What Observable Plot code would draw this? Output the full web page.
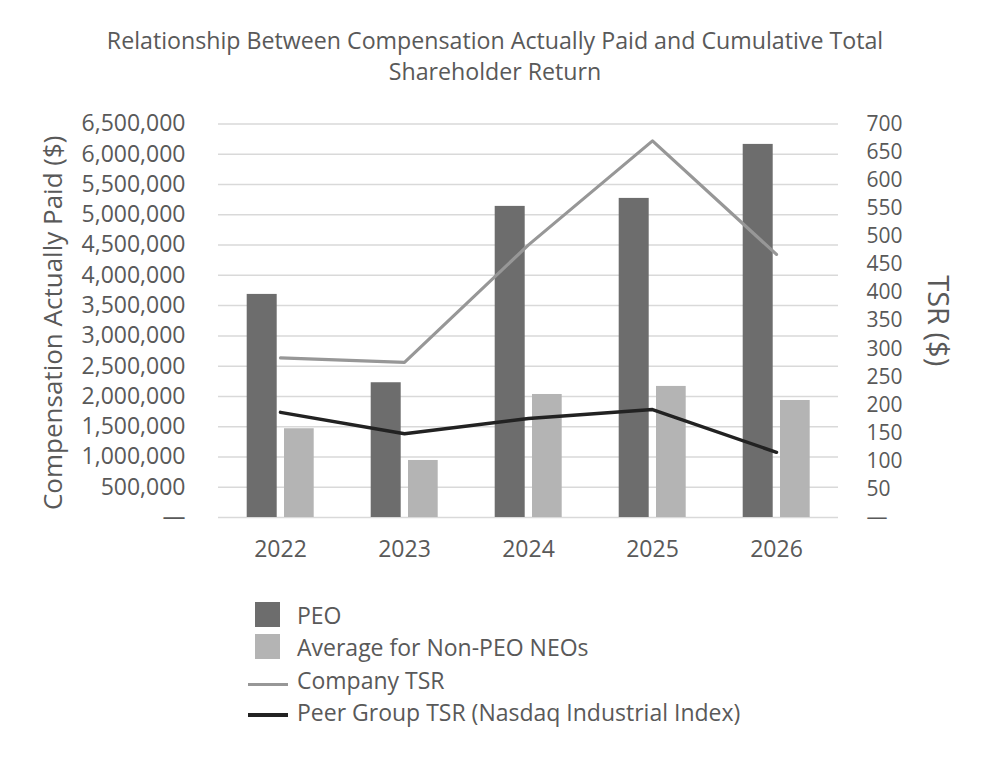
<!DOCTYPE html>
<html><head><meta charset="utf-8">
<script src="https://cdn.jsdelivr.net/npm/d3@7"></script>
<script src="https://cdn.jsdelivr.net/npm/@observablehq/plot@0.6"></script>
<style>
body{margin:0;background:#fff;font-family:"Open Sans",sans-serif;color:#595959;}
#wrap{position:relative;width:990px;height:768px;overflow:hidden;}
#title{position:absolute;top:25px;left:0;width:990px;text-align:center;font-size:23.2px;line-height:31px;color:#595959;}
#chart{position:absolute;top:95px;left:0;}
.sw{position:absolute;}
.lt{position:absolute;left:297px;font-size:23px;line-height:30px;white-space:nowrap;color:#595959;}
</style></head>
<body><div id="wrap">
<div id="title">Relationship Between Compensation Actually Paid and Cumulative Total<br>Shareholder Return</div>
<div id="chart"></div>
<div class="sw" style="left:255px;top:602px;width:25px;height:25px;background:#6d6d6d"></div>
<div class="lt" style="top:600px">PEO</div>
<div class="sw" style="left:255px;top:634px;width:25px;height:25px;background:#b4b4b4"></div>
<div class="lt" style="top:632px">Average for Non-PEO NEOs</div>
<div class="sw" style="left:248px;top:682.5px;width:40px;height:3px;background:#979797"></div>
<div class="lt" style="top:665px">Company TSR</div>
<div class="sw" style="left:248px;top:713px;width:40px;height:3.5px;background:#222"></div>
<div class="lt" style="top:697px">Peer Group TSR (Nasdaq Industrial Index)</div>
</div>
<script>
const years = ["2022", "2023", "2024", "2025", "2026"];
const peoCAP = [3685000, 2226000, 5139000, 5271000, 6163000];
const nonPeoCAP = [1466000, 942000, 2032000, 2165000, 1933000];
const companyTSR = [284, 276, 485, 670, 468];
const peerTSR = [187, 149, 176, 192, 116];
const leftTicks = [0, 500000, 1000000, 1500000, 2000000, 2500000, 3000000, 3500000, 4000000, 4500000, 5000000, 5500000, 6000000, 6500000];
const rightTicks = [0, 50, 100, 150, 200, 250, 300, 350, 400, 450, 500, 550, 600, 650, 700];

const leftMax = 6500000, rightMax = 700;
const ratio = leftMax / rightMax;
const rows = (vals) => years.map((y, i) => ({year: y, value: vals[i]}));

const chart = Plot.plot({
  width: 990,
  height: 485,
  marginTop: 28.5,
  marginBottom: 63,
  marginLeft: 218,
  marginRight: 152,
  style: {fontFamily: "Open Sans", fontSize: "23px", color: "#595959", background: "#fff"},
  x: {type: "band", domain: years, padding: 0},
  y: {domain: [0, leftMax]},
  marks: [
    Plot.gridY(leftTicks, {stroke: "#d9d9d9", strokeOpacity: 1, strokeWidth: 1.5}),
    Plot.barY(rows(peoCAP), {x: "year", y: "value", fill: "#6d6d6d", insetLeft: 28.7, insetRight: 65.3}),
    Plot.barY(rows(nonPeoCAP), {x: "year", y: "value", fill: "#b4b4b4", insetLeft: 66, insetRight: 28.3}),
    Plot.line(rows(companyTSR), {x: "year", y: d => d.value * ratio, stroke: "#979797", strokeWidth: 3.2}),
    Plot.line(rows(peerTSR), {x: "year", y: d => d.value * ratio, stroke: "#222", strokeWidth: 3.5}),
    Plot.axisY(leftTicks, {anchor: "left", tickSize: 0, tickPadding: 33, label: null,
      tickFormat: d => d === 0 ? "—" : d3.format(",")(d)}),
    Plot.axisY(rightTicks.map(v => v * ratio), {anchor: "right", tickSize: 0, tickPadding: 28, label: null, fontSize: 21,
      tickFormat: d => { const v = Math.round(d / ratio); return v === 0 ? "—" : String(v); }}),
    Plot.axisX({tickSize: 0, tickPadding: 23, label: null}),
    Plot.text(["Compensation Actually Paid ($)"], {frameAnchor: "left", dx: -165, dy: 2, rotate: -90, textAnchor: "middle", fontSize: 26, fill: "#595959"}),
    Plot.text(["TSR ($)"], {frameAnchor: "right", dx: 99, rotate: 90, textAnchor: "middle", fontSize: 29, fill: "#595959"})
  ]
});
document.getElementById("chart").appendChild(chart);
</script>
</body></html>
